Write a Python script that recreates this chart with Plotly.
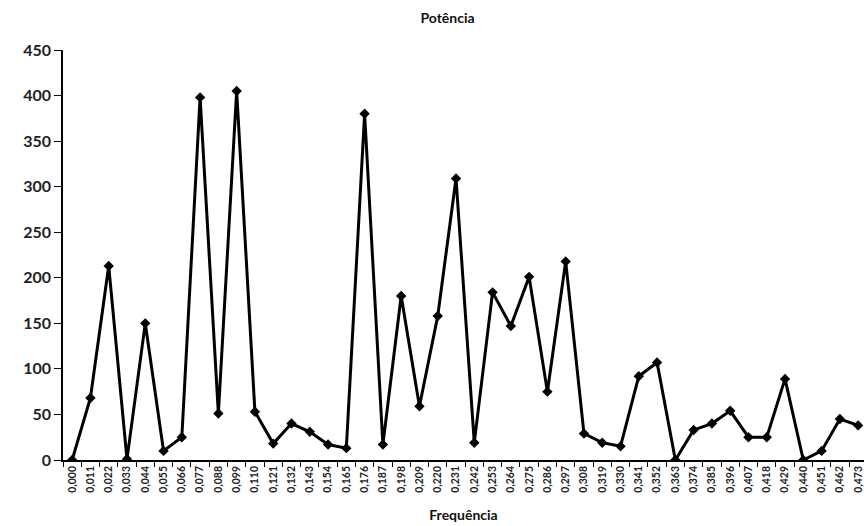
import plotly.graph_objects as go

# Frequency bins (category labels with comma decimal separator)
freq_labels = [
    "0,000", "0,011", "0,022", "0,033", "0,044", "0,055", "0,066", "0,077", "0,088", "0,099",
    "0,110", "0,121", "0,132", "0,143", "0,154", "0,165", "0,176", "0,187", "0,198", "0,209",
    "0,220", "0,231", "0,242", "0,253", "0,264", "0,275", "0,286", "0,297", "0,308", "0,319",
    "0,330", "0,341", "0,352", "0,363", "0,374", "0,385", "0,396", "0,407", "0,418", "0,429",
    "0,440", "0,451", "0,462", "0,473",
]

# Power per frequency bin
power = [
    0, 68, 213, 1, 150, 10, 25, 398, 51, 405,
    53, 18, 40, 31, 17, 13, 380, 17, 180, 59,
    158, 309, 19, 184, 147, 201, 75, 218, 29, 19,
    15, 92, 107, 0, 33, 40, 54, 25, 25, 89,
    0, 10, 45, 38,
]

y_ticks = [0, 50, 100, 150, 200, 250, 300, 350, 400, 450]

font_family = "Lato, 'Open Sans', sans-serif"

fig = go.Figure()
fig.add_trace(go.Scatter(
    x=freq_labels,
    y=power,
    mode="lines+markers",
    line=dict(color="black", width=3),
    marker=dict(symbol="diamond", size=8, color="black"),
    showlegend=False,
))

fig.update_layout(
    width=864,
    height=526,
    margin=dict(l=63, r=0, t=50, b=66),
    paper_bgcolor="white",
    plot_bgcolor="white",
    font=dict(family=font_family, color="black"),
    title=dict(
        text="<b>Potência</b>",
        x=0.518, xanchor="center",
        y=0.965, yanchor="middle",
        font=dict(size=14, family=font_family, color="#111"),
    ),
    xaxis=dict(
        type="category",
        range=[-0.5, 43.32],
        tickson="boundaries",
        ticks="outside",
        ticklen=5,
        tickcolor="black",
        tickwidth=1,
        tickangle=-90,
        tickfont=dict(size=10.5, family=font_family, color="#222", weight="bold"),
        showline=True,
        linecolor="black",
        linewidth=1.5,
        showgrid=False,
        zeroline=False,
        title=dict(
            text="<b>Frequência</b>",
            font=dict(size=14, family=font_family, color="#111"),
            standoff=18,
        ),
    ),
    yaxis=dict(
        range=[0, 450],
        tickvals=y_ticks,
        ticks="outside",
        ticklen=7,
        tickcolor="black",
        tickwidth=1,
        tickfont=dict(size=16, family=font_family, color="#222", weight="bold"),
        showline=True,
        linecolor="black",
        linewidth=1.5,
        showgrid=False,
        zeroline=False,
    ),
)

fig.write_html("out.html")
